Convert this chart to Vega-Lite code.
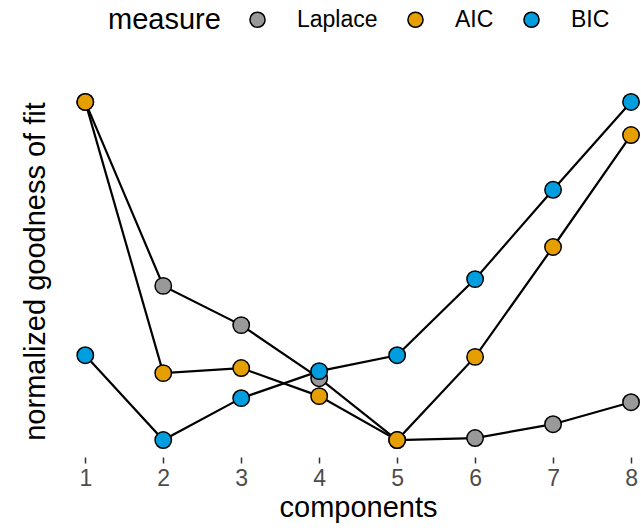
{
  "$schema": "https://vega.github.io/schema/vega-lite/v6.json",
  "autosize": "none",
  "width": 583,
  "height": 372,
  "padding": {"left": 58, "top": 85, "right": 0, "bottom": 74},
  "background": "white",
  "config": {
    "view": {"stroke": null},
    "font": "Liberation Sans"
  },
  "data": {
    "values": [
      {"components": 1, "measure": "Laplace", "value": 1.0},
      {"components": 2, "measure": "Laplace", "value": 0.456},
      {"components": 3, "measure": "Laplace", "value": 0.34},
      {"components": 4, "measure": "Laplace", "value": 0.183},
      {"components": 5, "measure": "Laplace", "value": 0.0},
      {"components": 6, "measure": "Laplace", "value": 0.006},
      {"components": 7, "measure": "Laplace", "value": 0.047},
      {"components": 8, "measure": "Laplace", "value": 0.112},
      {"components": 1, "measure": "AIC", "value": 1.0},
      {"components": 2, "measure": "AIC", "value": 0.198},
      {"components": 3, "measure": "AIC", "value": 0.213},
      {"components": 4, "measure": "AIC", "value": 0.13},
      {"components": 5, "measure": "AIC", "value": 0.0},
      {"components": 6, "measure": "AIC", "value": 0.246},
      {"components": 7, "measure": "AIC", "value": 0.571},
      {"components": 8, "measure": "AIC", "value": 0.902},
      {"components": 1, "measure": "BIC", "value": 0.251},
      {"components": 2, "measure": "BIC", "value": 0.0},
      {"components": 3, "measure": "BIC", "value": 0.124},
      {"components": 4, "measure": "BIC", "value": 0.204},
      {"components": 5, "measure": "BIC", "value": 0.251},
      {"components": 6, "measure": "BIC", "value": 0.476},
      {"components": 7, "measure": "BIC", "value": 0.74},
      {"components": 8, "measure": "BIC", "value": 1.0}
    ]
  },
  "encoding": {
    "x": {
      "field": "components",
      "type": "quantitative",
      "scale": {"domain": [0.65, 8.128], "nice": false, "zero": false},
      "axis": {
        "values": [1, 2, 3, 4, 5, 6, 7, 8],
        "title": "components",
        "titleFontSize": 29,
        "titleFontWeight": "normal",
        "titleColor": "black",
        "titleX": 300,
        "titlePadding": 3,
        "labelFontSize": 23,
        "labelColor": "#4d4d4d",
        "labelPadding": 4,
        "tickColor": "#333333",
        "tickSize": 6,
        "tickWidth": 1.5,
        "domain": false,
        "grid": false
      }
    },
    "y": {
      "field": "value",
      "type": "quantitative",
      "scale": {"domain": [-0.05, 1.05], "nice": false, "zero": false},
      "axis": {
        "title": "normalized goodness of fit",
        "titleFontSize": 29,
        "titleFontWeight": "normal",
        "titleColor": "black",
        "titlePadding": 8,
        "labels": false,
        "ticks": false,
        "domain": false,
        "grid": false
      }
    }
  },
  "layer": [
    {
      "mark": {"type": "line", "color": "black", "strokeWidth": 2.2},
      "encoding": {"detail": {"field": "measure"}}
    },
    {
      "mark": {"type": "point", "filled": true, "size": 270, "stroke": "black", "strokeWidth": 1.5, "opacity": 1},
      "encoding": {
        "fill": {
          "field": "measure",
          "type": "nominal",
          "scale": {"domain": ["Laplace", "AIC", "BIC"], "range": ["#999999", "#E69F00", "#009EDF"]},
          "legend": {
            "orient": "none",
            "legendX": 50,
            "legendY": -77,
            "direction": "horizontal",
            "title": "measure",
            "titleOrient": "left",
            "titleFontSize": 29,
            "titleFontWeight": "normal",
            "titleColor": "black",
            "titlePadding": 25,
            "titleBaseline": "middle",
            "labelFontSize": 23,
            "labelColor": "black",
            "labelOffset": 28,
            "columnPadding": 26,
            "symbolType": "circle",
            "symbolSize": 230,
            "symbolStrokeColor": "black",
            "symbolStrokeWidth": 1.5,
            "symbolOpacity": 1
          }
        }
      }
    }
  ]
}
